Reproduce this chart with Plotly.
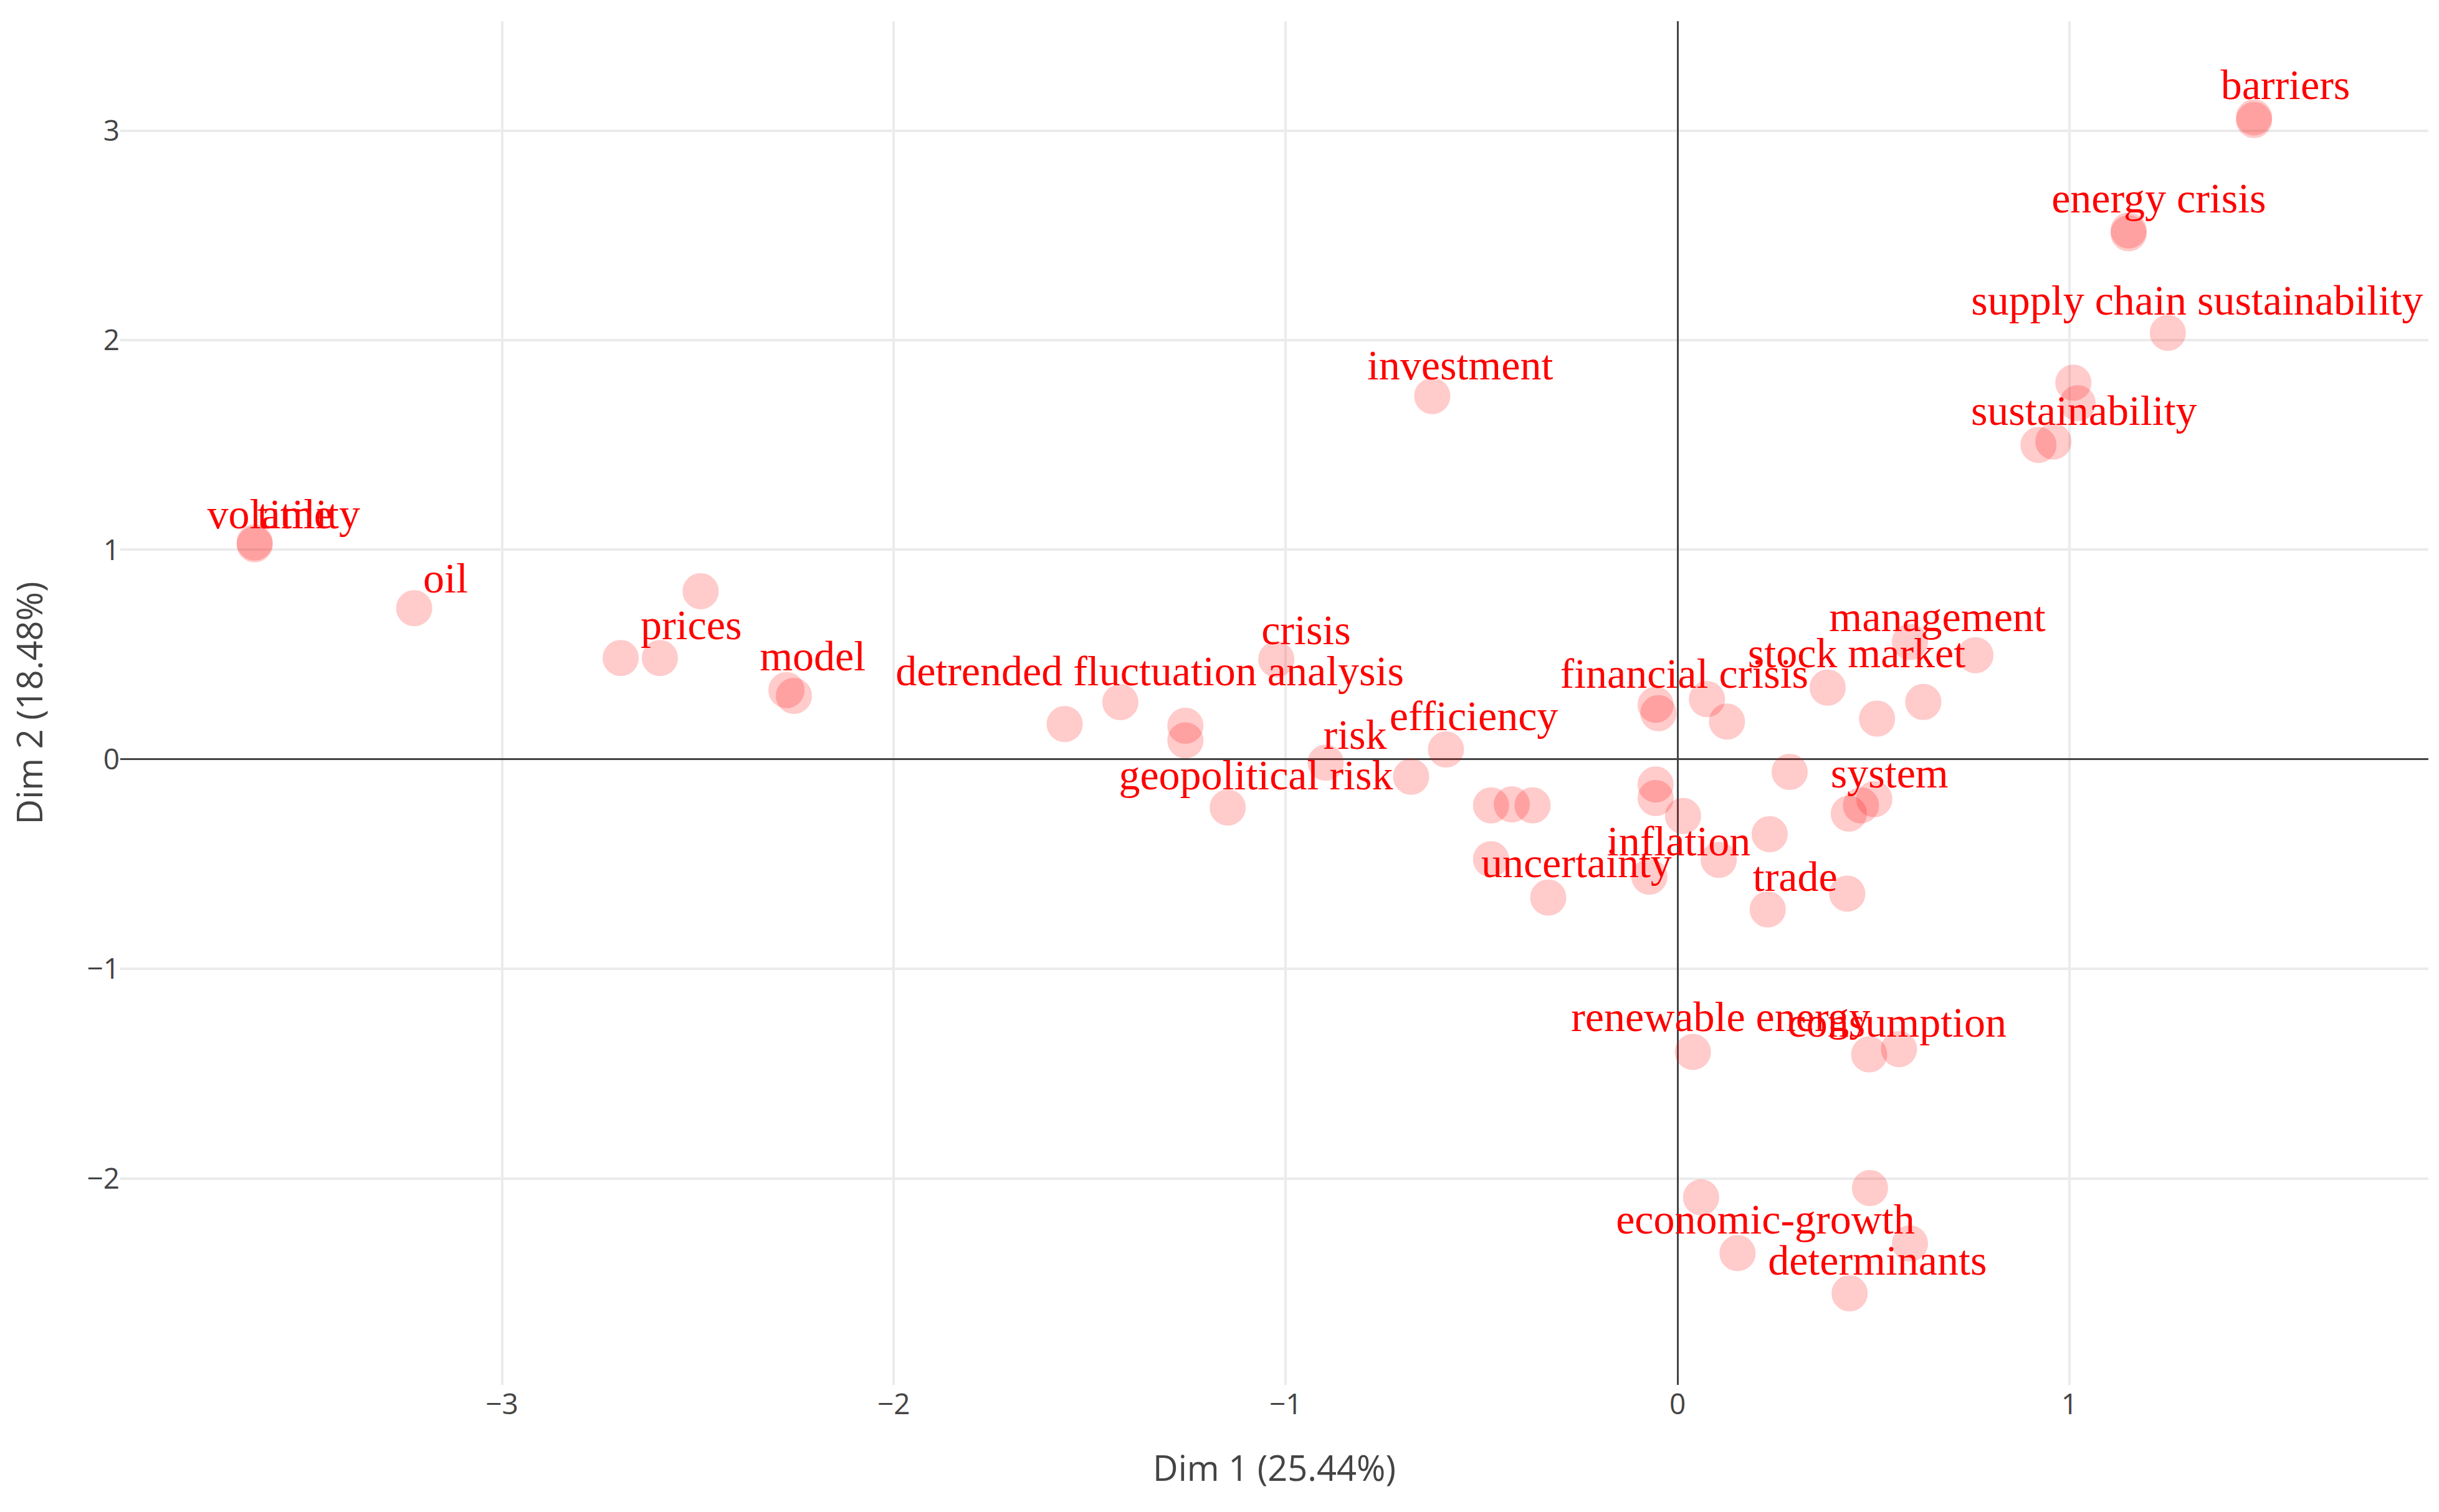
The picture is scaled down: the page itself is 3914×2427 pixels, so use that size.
import plotly.graph_objs as go

# MCA-style keyword map: point coordinates (Dim 1, Dim 2)
dim1 = [-3.631, -3.631, -3.224, -2.493, -2.697, -2.597, -2.274, -2.255,
        -1.564, -1.422, -1.256, -1.256, -1.024, -0.898, -0.680, -0.591,
        -1.148, -0.476, -0.423, -0.370, -0.476, -0.330, -0.056, -0.049,
        0.075, 0.126, 0.383, 0.509, 0.627, 0.760, 0.593, 0.286,
        -0.056, -0.056, 0.014, 0.235, 0.437, 0.468, 0.502, 0.105,
        -0.072, 0.230, 0.433, 0.039, 0.489, 0.565, 0.491, 0.060,
        0.153, 0.593, 0.439, 1.471, 1.471, 1.151, 1.151, 1.251,
        1.010, 1.021, 0.959, 0.921, -0.626]
dim2 = [1.026, 1.035, 0.721, 0.802, 0.483, 0.483, 0.330, 0.303,
        0.168, 0.273, 0.160, 0.090, 0.477, -0.016, -0.083, 0.047,
        -0.230, -0.220, -0.215, -0.220, -0.477, -0.660, 0.260, 0.220,
        0.287, 0.180, 0.342, 0.194, 0.274, 0.497, 0.560, -0.060,
        -0.120, -0.185, -0.270, -0.357, -0.259, -0.220, -0.190, -0.480,
        -0.560, -0.716, -0.641, -1.396, -1.408, -1.383, -2.046, -2.090,
        -2.356, -2.310, -2.548, 3.063, 3.050, 2.523, 2.510, 2.035,
        1.797, 1.699, 1.516, 1.500, 1.733]

# keyword labels and where they sit
labels = ['volatility', 'time', 'oil', 'prices', 'model',
          'detrended fluctuation analysis', 'crisis', 'risk', 'geopolitical risk',
          'efficiency', 'investment', 'uncertainty', 'financial crisis',
          'inflation', 'stock market', 'management', 'system', 'trade',
          'renewable energy', 'consumption', 'economic-growth', 'determinants',
          'barriers', 'energy crisis', 'supply chain sustainability', 'sustainability']
label_x = [-3.557, -3.528, -3.144, -2.517, -2.207,
           -1.347, -0.948, -0.823, -1.076,
           -0.520, -0.555, -0.258, 0.017,
           0.003, 0.457, 0.663, 0.541, 0.300,
           0.110, 0.560, 0.224, 0.510,
           1.551, 1.228, 1.326, 1.037]
label_y = [1.152, 1.152, 0.847, 0.623, 0.476,
           0.405, 0.599, 0.100, -0.094,
           0.190, 1.862, -0.513, 0.393,
           -0.407, 0.491, 0.662, -0.085, -0.576,
           -1.247, -1.272, -2.213, -2.408,
           3.202, 2.661, 2.171, 1.645]

fig = go.Figure()

fig.add_trace(go.Scatter(x=dim1, y=dim2, mode='markers',
                         marker=dict(color='red', opacity=0.2, size=54,
                                     line=dict(color='red', width=4)),
                         hoverinfo='skip'))

fig.add_trace(go.Scatter(x=label_x, y=label_y, mode='text', text=labels,
                         textposition='middle center',
                         textfont=dict(family='Liberation Serif', size=68, color='red'),
                         hoverinfo='skip'))

fig.update_layout(width=3914, height=2427, showlegend=False,
                  plot_bgcolor='white', paper_bgcolor='white',
                  font=dict(family='Open Sans', color='#444'),
                  margin=dict(l=185, r=25, t=26, b=212))

fig.update_xaxes(range=[-3.974, 1.916], dtick=1, showgrid=True, gridcolor='#ebebeb',
                 gridwidth=4, zeroline=True, zerolinecolor='#444', zerolinewidth=3,
                 tickfont=dict(size=46),
                 title=dict(text='Dim 1 (25.44%)', font=dict(size=56), standoff=55))
fig.update_yaxes(range=[-2.985, 3.522], dtick=1, showgrid=True, gridcolor='#ebebeb',
                 gridwidth=4, zeroline=True, zerolinecolor='#444', zerolinewidth=3,
                 tickfont=dict(size=46),
                 title=dict(text='Dim 2 (18.48%)', font=dict(size=56), standoff=60))

fig.write_html("out.html")
